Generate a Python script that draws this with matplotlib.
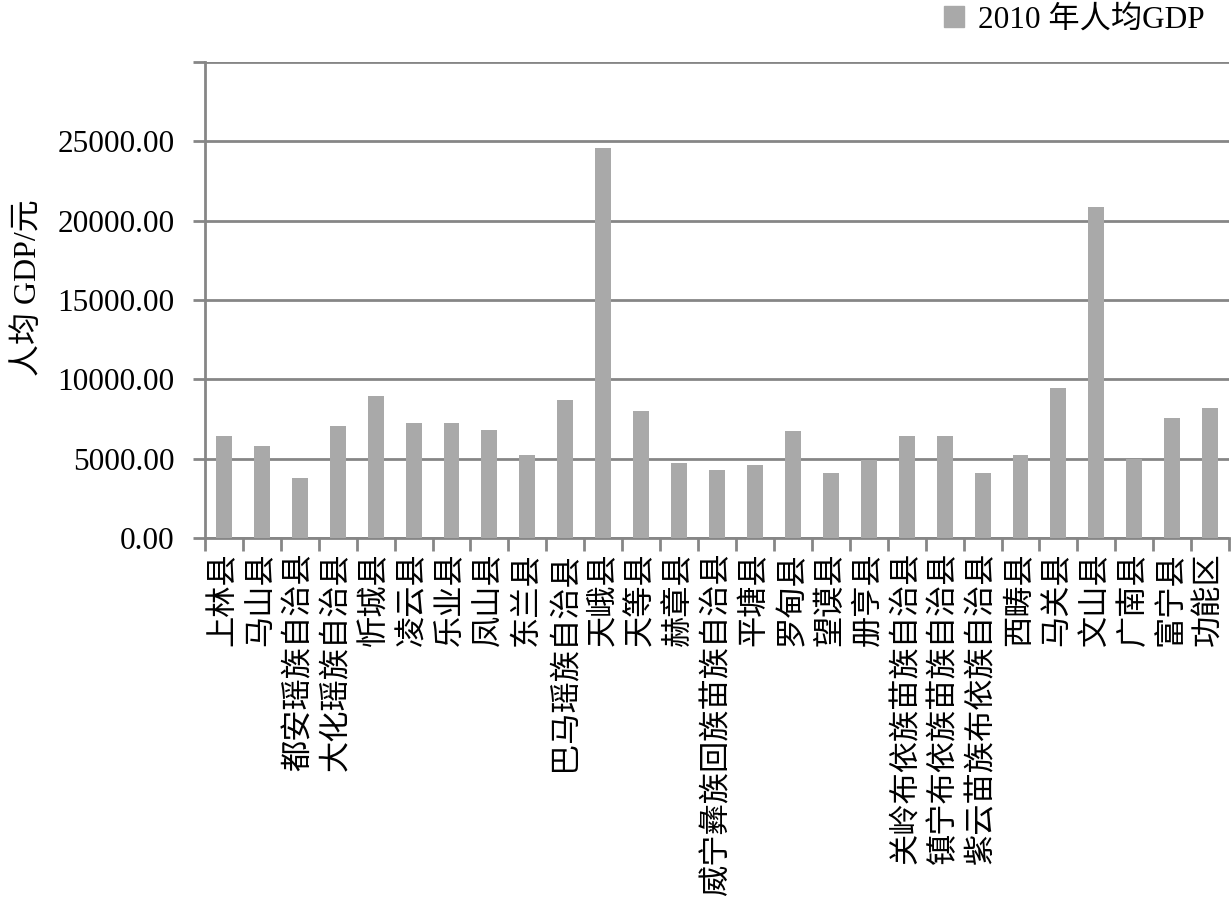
import matplotlib
matplotlib.use('Agg')
import matplotlib.pyplot as plt
from matplotlib.patches import Patch
import numpy as np

plt.rcParams['font.family'] = ['Liberation Serif', 'Noto Sans CJK SC']
plt.rcParams['axes.unicode_minus'] = False

# 县名与 2010 年人均 GDP（元）
counties = ['上林县', '马山县', '都安瑶族自治县', '大化瑶族自治县', '忻城县', '凌云县',
            '乐业县', '凤山县', '东兰县', '巴马瑶族自治县', '天峨县', '天等县', '赫章县',
            '威宁彝族回族苗族自治县', '平塘县', '罗甸县', '望谟县', '册亨县',
            '关岭布依族苗族自治县', '镇宁布依族苗族自治县', '紫云苗族布依族自治县',
            '西畴县', '马关县', '文山县', '广南县', '富宁县', '功能区']
gdp_2010 = [6450, 5820, 3800, 7080, 8970, 7240, 7240, 6790, 5260, 8680, 24600,
            8030, 4740, 4290, 4610, 6770, 4110, 4920, 6450, 6450, 4110, 5240,
            9440, 20840, 4970, 7550, 8180]
yticks = [0, 5000, 10000, 15000, 20000, 25000, 30000]

grey = '#868686'
bar_color = '#a9a9a9'

fig = plt.figure(figsize=(12.31, 9), dpi=100, facecolor='white')
ax = fig.add_axes([0.1665, 0.4022, 0.832, 0.5289])

x = np.arange(len(counties))
ax.bar(x, gdp_2010, width=0.42, color=bar_color, zorder=3)

ax.set_ylim(0, 30000)
ax.set_xlim(-0.5, len(counties) - 0.5)
ax.set_yticks(yticks)
# 最上面一条网格线不标数字
ax.set_yticklabels(['%.2f' % v for v in yticks[:-1]] + [''])
ax.grid(axis='y', color=grey, linewidth=2, zorder=0)

# 类别标签居中，刻度线放在类别之间
ax.set_xticks(x)
ax.set_xticklabels(counties, rotation=90, fontsize=22.5, va='top', ha='center')
ax.tick_params(axis='x', which='major', length=0, pad=10)
ax.set_xticks(np.arange(-0.5, len(counties)), minor=True)
ax.tick_params(axis='x', which='minor', length=9, width=2, color=grey, direction='out')
ax.tick_params(axis='y', length=9, width=2, color=grey, labelsize=22.5, pad=13)

for side in ['top', 'right']:
    ax.spines[side].set_visible(False)
for side in ['left', 'bottom']:
    ax.spines[side].set_color(grey)
    ax.spines[side].set_linewidth(2)

ax.set_ylabel('人均 GDP/元', fontsize=23)
ax.yaxis.set_label_coords(-0.158, 0.525)

ax.legend(handles=[Patch(color=bar_color, label='2010 年人均GDP')],
          loc='upper right', bbox_to_anchor=(0.989, 1.008), bbox_transform=fig.transFigure,
          frameon=False, fontsize=22.5, handlelength=0.65, handleheight=0.65,
          handletextpad=0.45, borderaxespad=0)

fig.savefig('out.png', dpi=100, facecolor='white')
